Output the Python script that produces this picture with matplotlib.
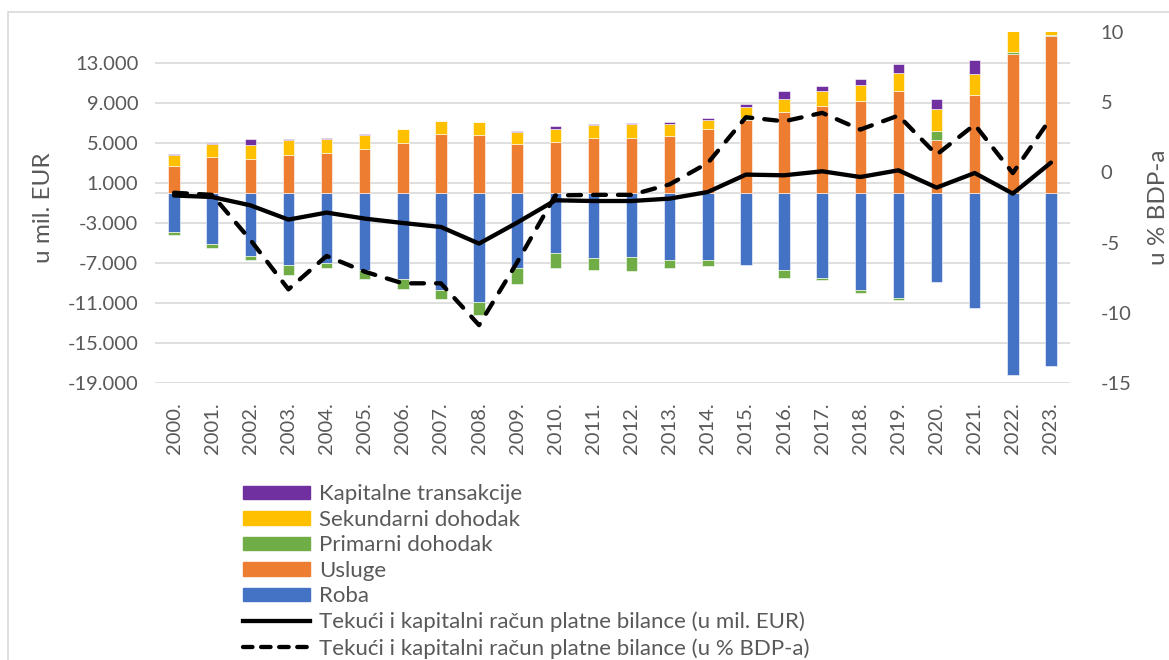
import numpy as np
import matplotlib
matplotlib.use('Agg')
import matplotlib.pyplot as plt
from matplotlib.patches import Patch, Rectangle
from matplotlib.lines import Line2D
from matplotlib.ticker import FixedLocator, FuncFormatter

plt.rcParams['font.family'] = ['Lato', 'DejaVu Sans']

# data
years = [f'{y}.' for y in range(2000, 2024)]

roba = [-3900, -5060, -6260, -7200, -7000, -7730, -8600, -9660, -10860, -7500,
        -5960, -6460, -6360, -6660, -6730, -7160, -7660, -8530, -9730, -10530,
        -8900, -11460, -18160, -17330]
usluge = [2700, 3600, 3440, 3840, 4000, 4400, 5000, 5870, 5800, 4870,
          5070, 5500, 5500, 5700, 6400, 7270, 8100, 8700, 9200, 10240,
          5270, 9770, 13900, 15700]
primarni = [-330, -440, -440, -960, -530, -830, -960, -970, -1370, -1630,
            -1540, -1270, -1440, -870, -570, 230, -840, -170, -300, -170,
            970, 0, 200, 150]
sekundarni = [1140, 1300, 1330, 1430, 1400, 1370, 1370, 1300, 1270, 1270,
              1370, 1340, 1370, 1240, 940, 1070, 1340, 1540, 1570, 1730,
              2130, 2170, 2800, 2900]
kapitalne = [60, 130, 600, 120, 60, 100, 30, 30, 30, 30,
             230, 100, 170, 130, 160, 300, 730, 460, 670, 930,
             1000, 1360, 1200, 1600]

racun_eur = [-250, -400, -1230, -2660, -1960, -2560, -3000, -3400, -5060, -2960,
             -730, -800, -800, -560, 100, 1840, 1770, 2170, 1600, 2270,
             540, 2000, -60, 3040]
racun_bdp = [-1.45, -1.6, -4.8, -8.33, -5.95, -7.07, -7.9, -7.9, -10.88, -6.4,
             -1.64, -1.6, -1.6, -0.85, 0.67, 3.93, 3.64, 4.24, 3.05, 4.05,
             1.26, 3.4, -0.05, 3.88]

series = [
    ('Roba', roba, '#4472C4'),
    ('Usluge', usluge, '#ED7D31'),
    ('Primarni dohodak', primarni, '#70AD47'),
    ('Sekundarni dohodak', sekundarni, '#FFC000'),
    ('Kapitalne transakcije', kapitalne, '#7030A0'),
]

txt = '#595959'
grid = '#d9d9d9'

fig = plt.figure(figsize=(11.69, 6.6), dpi=100)
W, H = 1169, 660
ax = fig.add_axes([155 / W, 1 - 383 / H, (1070 - 155) / W, (383 - 32) / H])

x = np.arange(len(years))
pos = np.zeros(len(years))
neg = np.zeros(len(years))
for name, vals, col in series:
    v = np.array(vals, dtype=float)
    bottom = np.where(v >= 0, pos, neg)
    ax.bar(x, v, 0.3, bottom=bottom, color=col, edgecolor='white',
           linewidth=0.4, zorder=2)
    pos = pos + np.where(v >= 0, v, 0)
    neg = neg + np.where(v < 0, v, 0)

ax.plot(x, racun_eur, color='black', lw=3.1, solid_capstyle='round',
        solid_joinstyle='round', zorder=4)

ax.set_xlim(-0.5, len(years) - 0.5)
ax.set_ylim(-19000, 16100)
ax.yaxis.set_major_locator(FixedLocator(np.arange(-19000, 13001, 4000)))
ax.yaxis.set_major_formatter(FuncFormatter(lambda v, p: f'{int(v):,}'.replace(',', '.')))
ax.grid(axis='y', color=grid, lw=1.2, zorder=0)
ax.axhline(0, color=grid, lw=1.2, zorder=1)
ax.set_xticks(x)
ax.set_xticklabels(years, rotation=90, fontsize=14.5, color=txt)
ax.tick_params(axis='both', length=0, labelsize=14.5, labelcolor=txt)
ax.tick_params(axis='x', pad=14)
ax.tick_params(axis='y', pad=12)
for s in ax.spines.values():
    s.set_visible(False)
ax.set_ylabel('u mil. EUR', fontsize=17.5, color=txt, labelpad=10)

ax2 = ax.twinx()
ax2.plot(x, racun_bdp, color='black', lw=3.1, dashes=(3.0, 2.8),
         dash_capstyle='round', dash_joinstyle='round', zorder=4)
ax2.set_ylim(-15, 10)
ax2.set_yticks([-15, -10, -5, 0, 5, 10])
ax2.yaxis.set_major_formatter(FuncFormatter(lambda v, p: f'{int(v)}'))
ax2.tick_params(axis='y', length=0, labelsize=14.5, labelcolor=txt, pad=22)
for s in ax2.spines.values():
    s.set_visible(False)
ax2.set_ylabel('u % BDP-a', fontsize=17.5, color=txt, labelpad=12)

# chart border
fig.patches.append(Rectangle((8 / W, -0.1), 1.2, 1.1 - 12 / H,
                             transform=fig.transFigure, fill=False,
                             edgecolor=grid, lw=1.2))

handles = [Patch(color=c) for _, _, c in series[::-1]]
labels = [n for n, _, _ in series[::-1]]
handles += [Line2D([], [], color='black', lw=3.1),
            Line2D([], [], color='black', lw=3.1, dashes=(2.2, 2.0),
                   dash_capstyle='round')]
labels += ['Tekući i kapitalni račun platne bilance (u mil. EUR)',
           'Tekući i kapitalni račun platne bilance (u % BDP-a)']
leg = fig.legend(handles, labels, loc='upper left',
                 bbox_to_anchor=(232 / W, 1 - 473 / H), frameon=False,
                 fontsize=16, handlelength=3.0, handleheight=0.55,
                 labelspacing=0.25, handletextpad=0.4, borderpad=0)
for t in leg.get_texts():
    t.set_color(txt)

fig.savefig('out.png', dpi=100)
